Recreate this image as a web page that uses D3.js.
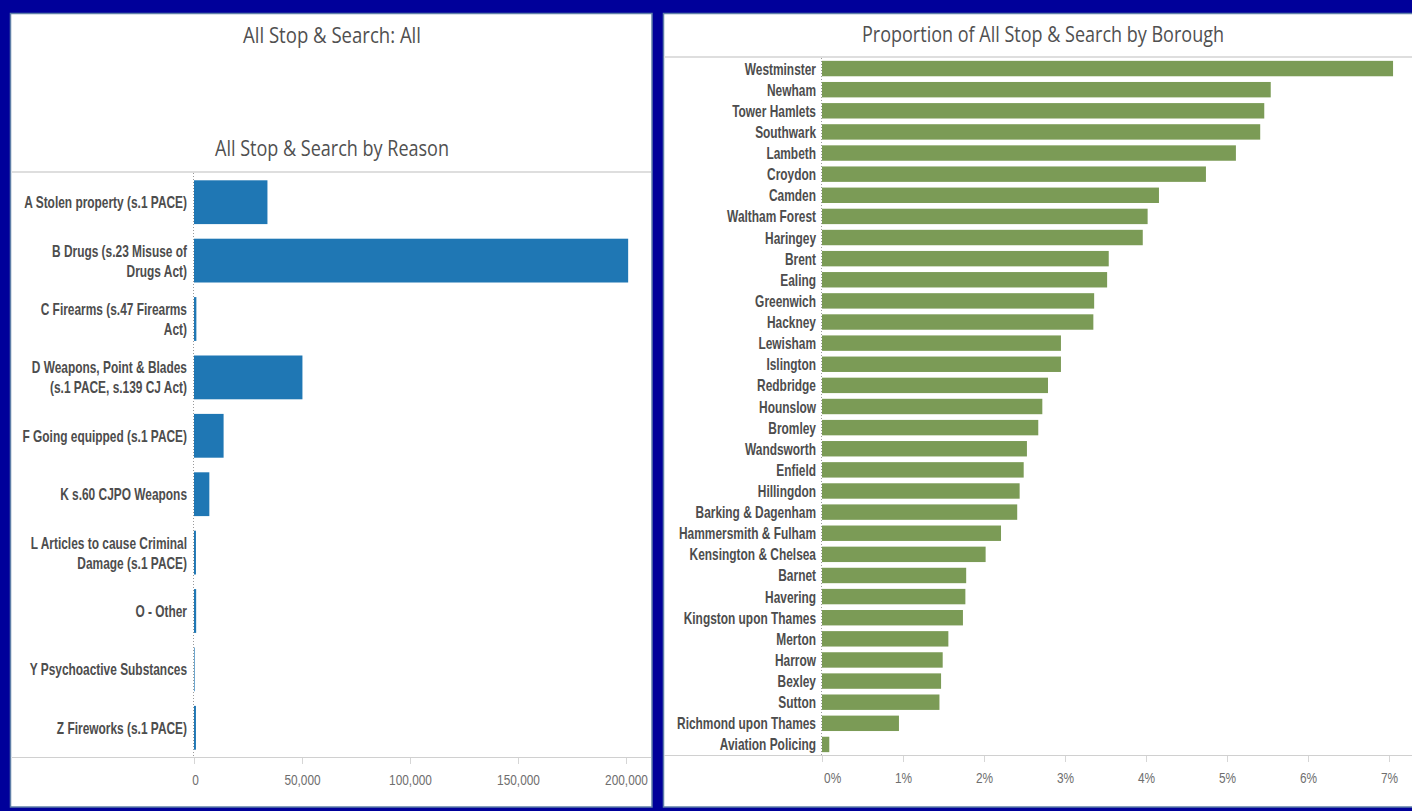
<!DOCTYPE html>
<html>
<head>
  <meta charset=utf-8>
  <title>All Stop & Search</title>
</head>
<script src="https://d3js.org/d3.v7.min.js"></script>
<style>
  body { margin: 0; background: #00009a; }
  svg { display: block; }
  .lbl { font-family: 'Liberation Sans', Arial, sans-serif; font-weight: bold; font-size: 16px; fill: #4d4d4d; }
  .tk { font-family: 'Liberation Sans', Arial, sans-serif; font-size: 15px; fill: #6e6e6e; }
  .title { font-family: 'Open Sans', sans-serif; font-size: 21px; font-weight: 500; fill: #505050; }
</style>
<body>
  <div id='chart'></div>
</body>
<script>

// reasons chart
var reasons = [
  'A Stolen property (s.1 PACE)',
  'B Drugs (s.23 Misuse of Drugs Act)',
  'C Firearms (s.47 Firearms Act)',
  'D Weapons, Point & Blades (s.1 PACE, s.139 CJ Act)',
  'F Going equipped (s.1 PACE)',
  'K s.60 CJPO Weapons',
  'L Articles to cause Criminal Damage (s.1 PACE)',
  'O - Other',
  'Y Psychoactive Substances',
  'Z Fireworks (s.1 PACE)'
];
var reasonCounts = [34000, 201000, 1100, 50200, 13700, 7100, 900, 1000, 300, 900];
var reasonTicks = [0, 50000, 100000, 150000, 200000];

// borough chart (percent of all)
var boroughs = [
  'Westminster', 'Newham', 'Tower Hamlets', 'Southwark', 'Lambeth', 'Croydon',
  'Camden', 'Waltham Forest', 'Haringey', 'Brent', 'Ealing', 'Greenwich',
  'Hackney', 'Lewisham', 'Islington', 'Redbridge', 'Hounslow', 'Bromley',
  'Wandsworth', 'Enfield', 'Hillingdon', 'Barking & Dagenham',
  'Hammersmith & Fulham', 'Kensington & Chelsea', 'Barnet', 'Havering',
  'Kingston upon Thames', 'Merton', 'Harrow', 'Bexley', 'Sutton',
  'Richmond upon Thames', 'Aviation Policing'
];
var boroughShare = [
  7.05, 5.54, 5.46, 5.41, 5.11, 4.74,
  4.16, 4.02, 3.96, 3.54, 3.52, 3.36,
  3.35, 2.95, 2.95, 2.79, 2.72, 2.67,
  2.53, 2.49, 2.44, 2.41,
  2.21, 2.02, 1.78, 1.77,
  1.74, 1.56, 1.49, 1.47, 1.45,
  0.95, 0.09
];
var boroughTicks = [0, 1, 2, 3, 4, 5, 6, 7];

var width = 1412, height = 811;
var narrow = 0.745;   // no narrow font installed, squeeze the sans instead
var tickNarrow = 0.79;

var svg = d3.select('#chart').append('svg')
  .attr('width', width)
  .attr('height', height);

// panels
svg.append('rect')
  .attr('x', 10.5).attr('y', 13.5).attr('width', 641.5).attr('height', 793.5)
  .attr('fill', '#fff').attr('stroke', '#5f7fa8').attr('stroke-width', 1.5);
svg.append('rect')
  .attr('x', 663.5).attr('y', 13.5).attr('width', 760).attr('height', 793.5)
  .attr('fill', '#fff').attr('stroke', '#5f7fa8').attr('stroke-width', 1.5);

// titles
function title(txt, x, y, w) {
  svg.append('text').attr('class', 'title')
    .attr('x', x).attr('y', y).attr('text-anchor', 'middle')
    .attr('textLength', w).attr('lengthAdjust', 'spacingAndGlyphs')
    .text(txt);
}
title('All Stop & Search: All', 332, 43, 178);
title('All Stop & Search by Reason', 332, 156, 234);
title('Proportion of All Stop & Search by Borough', 1043, 42, 362);

// wrap long labels like tableau does
function wrap(sel, maxW) {
  sel.each(function () {
    var t = d3.select(this);
    var words = t.text().split(' ');
    t.text(null);
    var lines = [], line = [];
    var probe = t.append('tspan');
    words.forEach(function (w) {
      line.push(w);
      probe.text(line.join(' '));
      if (probe.node().getComputedTextLength() * narrow > maxW && line.length > 1) {
        line.pop();
        lines.push(line.join(' '));
        line = [w];
      }
    });
    lines.push(line.join(' '));
    probe.remove();
    lines.forEach(function (l, i) {
      t.append('tspan')
        .attr('x', 0)
        .attr('dy', i == 0 ? ((-(lines.length - 1) * 20) / 2) + 6 : 20)
        .text(l);
    });
  });
}

function drawBars(cfg) {
  var g = svg.append('g');

  var x = d3.scaleLinear().domain(cfg.domain).range([cfg.x0, cfg.x1]);
  var y = d3.scaleBand().domain(cfg.cats).range([cfg.top, cfg.bottom]).paddingInner(cfg.pad).paddingOuter(cfg.pad / 2);

  // header rule
  g.append('line')
    .attr('x1', cfg.left).attr('x2', cfg.right)
    .attr('y1', cfg.top - 1).attr('y2', cfg.top - 1)
    .attr('stroke', '#dedede').attr('stroke-width', 2);

  // bottom axis
  var axis = g.append('g')
    .attr('transform', 'translate(0,' + cfg.bottom + ')')
    .call(d3.axisBottom(x).tickValues(cfg.ticks).tickSize(7).tickPadding(10).tickFormat(cfg.fmt));
  axis.select('.domain').remove();
  axis.selectAll('line').attr('stroke', '#d6d6d6');
  axis.selectAll('text')
    .attr('class', 'tk').attr('fill', null)
    .attr('transform', 'scale(' + tickNarrow + ',1)');
  axis.attr('font-family', null).attr('font-size', null);
  axis.selectAll('.tick text').filter(function (d) { return d == 0; })
    .attr('text-anchor', 'start').attr('dx', cfg.zeroDx);
  g.append('line')
    .attr('x1', cfg.left).attr('x2', cfg.right)
    .attr('y1', cfg.bottom + 0.5).attr('y2', cfg.bottom + 0.5)
    .attr('stroke', '#d0d0d0');

  // zero line
  g.append('line')
    .attr('x1', x(0) - 0.5).attr('x2', x(0) - 0.5)
    .attr('y1', cfg.top).attr('y2', cfg.bottom)
    .attr('stroke', '#9a9a9a').attr('stroke-dasharray', '1,2');

  g.selectAll('rect.bar')
    .data(cfg.vals)
    .enter().append('rect')
      .attr('class', 'bar')
      .attr('x', x(0))
      .attr('y', function (d, i) { return y(cfg.cats[i]); })
      .attr('width', function (d) { return Math.max(0.6, x(d) - x(0)); })
      .attr('height', y.bandwidth())
      .attr('fill', cfg.color);

  var labels = g.selectAll('text.lbl')
    .data(cfg.cats)
    .enter().append('text')
      .attr('class', 'lbl')
      .attr('x', 0)
      .attr('transform', function (d) {
        return 'translate(' + cfg.labelX + ',' + (y(d) + y.bandwidth() / 2) + ') scale(' + narrow + ',1)';
      })
      .attr('text-anchor', 'end')
      .text(function (d) { return d; });
  if (cfg.wrap) labels.call(wrap, cfg.wrap);
  else labels.attr('dy', 6);
}

drawBars({
  cats: reasons, vals: reasonCounts, ticks: reasonTicks,
  domain: [0, 200000], x0: 194, x1: 626,
  top: 173, bottom: 757, left: 12, right: 651, pad: 0.25,
  labelX: 187, wrap: 168, color: '#1f77b4', zeroDx: -3,
  fmt: d3.format(',')
});

drawBars({
  cats: boroughs, vals: boroughShare, ticks: boroughTicks,
  domain: [0, 7], x0: 822, x1: 1389,
  top: 58, bottom: 755, left: 664, right: 1412, pad: 0.27,
  labelX: 816, wrap: 0, color: '#7b9b56', zeroDx: 2,
  fmt: function (d) { return d + '%'; }
});

</script>
</html>
